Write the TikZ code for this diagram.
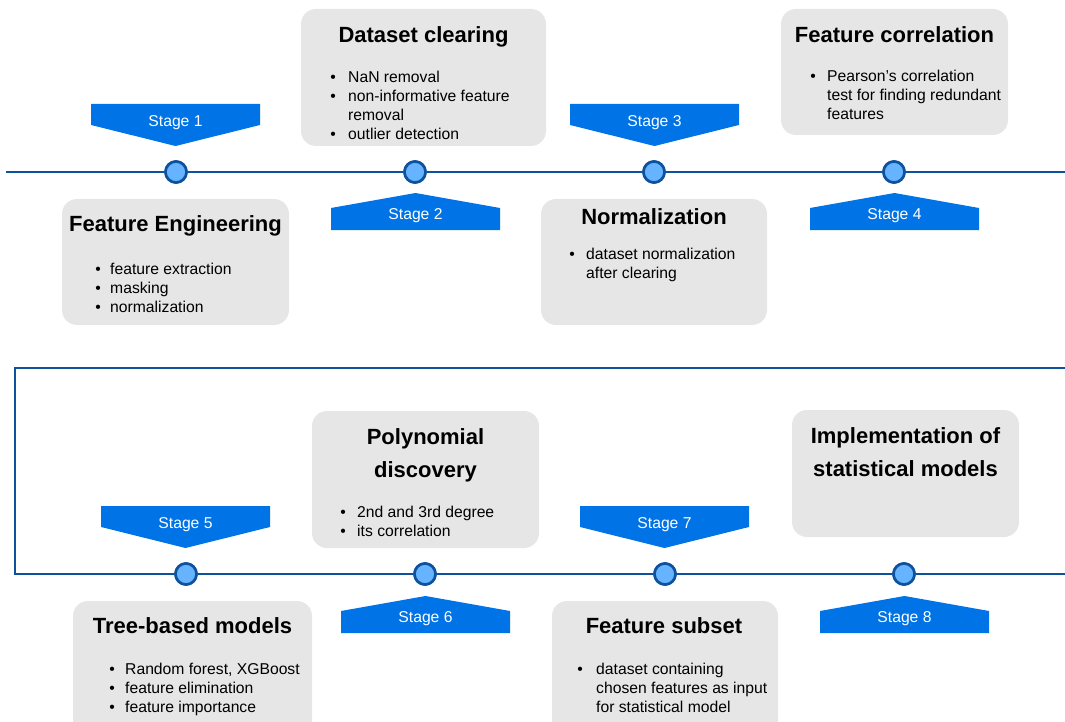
\documentclass[tikz,border=0pt]{standalone}
\usepackage{fontspec}
\setmainfont{Liberation Sans}
\definecolor{stageblue}{RGB}{0,115,230}
\definecolor{linedark}{RGB}{14,82,158}
\definecolor{dotfill}{RGB}{102,180,255}
\definecolor{boxgray}{RGB}{230,230,230}
\tikzset{
  card/.style={fill=boxgray, draw=none, rounded corners=15pt, rectangle, inner sep=0},
  ttl/.style={font=\fontsize{22}{26}\selectfont\bfseries, anchor=base, inner sep=0},
  itm/.style={font=\fontsize{15.7}{19}\selectfont, anchor=base west, inner sep=0},
  bul/.style={font=\fontsize{15.7}{19}\selectfont, anchor=base, inner sep=0},
  tline/.style={draw=linedark, line width=2.2pt},
  dot/.style={circle, draw=linedark, fill=dotfill, line width=2.6pt, minimum size=21pt, inner sep=0},
  stg/.style={fill=stageblue},
  stxt/.style={text=white, font=\fontsize{15.7}{19}\selectfont, anchor=base, inner sep=0},
}
\newcommand\StDown[4]{%
  \fill[stg] (#2-84.5,#3) -- (#2+84.5,#3) -- (#2+84.5,#3+21) -- (#2,#3+42) -- (#2-84.5,#3+21) -- cycle;
  \node[stxt] (#1) at (#2,#3+22.5) {#4};}
\newcommand\StUp[4]{%
  \fill[stg] (#2,#3) -- (#2+84.5,#3+15) -- (#2+84.5,#3+37) -- (#2-84.5,#3+37) -- (#2-84.5,#3+15) -- cycle;
  \node[stxt] (#1) at (#2,#3+26) {#4};}
\newcommand\Item[5]{%
  \node[bul] (#1d) at (#2,#4) {\textbullet};
  \node[itm] (#1) at (#3,#4) {#5};}
\newcommand\Cont[4]{%
  \node[itm] (#1) at (#2,#3) {#4};}
\begin{document}
\begin{tikzpicture}[x=1pt,y=-1pt]
\useasboundingbox (0,0) rectangle (1065,722);
% cards
\node[card, minimum width=227, minimum height=126] (bFE) at (175.5,262) {};
\node[card, minimum width=245, minimum height=137] (bDC) at (423.5,77.5) {};
\node[card, minimum width=226, minimum height=126] (bNO) at (654,262) {};
\node[card, minimum width=227, minimum height=126] (bFC) at (894.5,72) {};
\node[card, minimum width=227, minimum height=137] (bPD) at (425.5,479.5) {};
\node[card, minimum width=227, minimum height=127] (bIM) at (905.5,473.5) {};
\node[card, minimum width=239, minimum height=139] (bTB) at (192.5,670.5) {};
\node[card, minimum width=226, minimum height=139] (bFS) at (665,670.5) {};
% timeline 1
\coordinate (L0) at (6,172);
\coordinate (L1) at (1065,172);
\node[dot] (c1) at (176,172) {};
\node[dot] (c2) at (415,172) {};
\node[dot] (c3) at (654,172) {};
\node[dot] (c4) at (894,172) {};
\draw[tline] (L0) -- (c1) -- (c2) -- (c3) -- (c4) -- (L1);
% timeline 2
\coordinate (R0) at (1065,368);
\coordinate (R1) at (15,368);
\coordinate (R2) at (15,574);
\coordinate (R3) at (1065,574);
\node[dot] (c5) at (186,574) {};
\node[dot] (c6) at (425,574) {};
\node[dot] (c7) at (665,574) {};
\node[dot] (c8) at (904,574) {};
\draw[tline] (R0) -- (R1) -- (R2) -- (c5) -- (c6) -- (c7) -- (c8) -- (R3);
\foreach \n in {c1,c2,c3,c4,c5,c6,c7,c8} \node[dot] at (\n) {};
% stages
\StDown{s1}{175.5}{104}{Stage 1}
\StUp{s2}{415.5}{193}{Stage 2}
\StDown{s3}{654.5}{104}{Stage 3}
\StUp{s4}{894.5}{193}{Stage 4}
\StDown{s5}{185.5}{506}{Stage 5}
\StUp{s6}{425.5}{596}{Stage 6}
\StDown{s7}{664.5}{506}{Stage 7}
\StUp{s8}{904.5}{596}{Stage 8}
% Feature Engineering
\node[ttl] (tFE) at (175.5,231.5) {Feature Engineering};
\Item{fe1}{98}{110}{274}{feature extraction}
\Item{fe2}{98}{110}{293}{masking}
\Item{fe3}{98}{110}{312}{normalization}
% Dataset clearing
\node[ttl] (tDC) at (423.5,42.5) {Dataset clearing};
\Item{dc1}{333}{348}{82.5}{NaN removal}
\Item{dc2}{333}{348}{101.5}{non-informative feature}
\Cont{dc3}{348}{120.5}{removal}
\Item{dc4}{333}{348}{140}{outlier detection}
% Normalization
\node[ttl] (tNO) at (654,225) {Normalization};
\Item{no1}{572}{586}{259}{dataset normalization}
\Cont{no2}{586}{278}{after clearing}
% Feature correlation
\node[ttl] (tFC) at (894.5,42.5) {Feature correlation};
\Item{fc1}{813}{827}{82}{Pearson's correlation}
\Cont{fc2}{827}{101}{test for finding redundant}
\Cont{fc3}{827}{120}{features}
% Polynomial discovery
\node[ttl] (tPD1) at (425.5,444) {Polynomial};
\node[ttl] (tPD2) at (425.5,477) {discovery};
\Item{pd1}{343}{357}{517}{2nd and 3rd degree}
\Item{pd2}{343}{357}{536}{its correlation}
% Implementation
\node[ttl] (tIM1) at (905.5,443.5) {Implementation of};
\node[ttl] (tIM2) at (905.5,476.5) {statistical models};
% Tree-based models
\node[ttl] (tTB) at (192.5,633.5) {Tree-based models};
\Item{tb1}{112}{125}{674}{Random forest, XGBoost}
\Item{tb2}{112}{125}{693}{feature elimination}
\Item{tb3}{112}{125}{712}{feature importance}
% Feature subset
\node[ttl] (tFS) at (664,633.5) {Feature subset};
\Item{fs1}{580}{596}{674}{dataset containing}
\Cont{fs2}{596}{693}{chosen features as input}
\Cont{fs3}{596}{712}{for statistical model}
\end{tikzpicture}
\end{document}
